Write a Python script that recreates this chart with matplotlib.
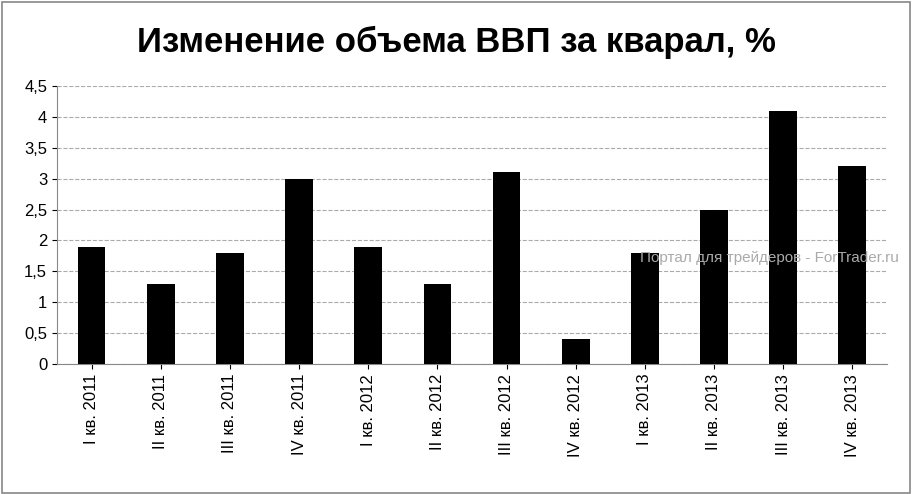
import matplotlib.pyplot as plt
from matplotlib.ticker import FuncFormatter, MultipleLocator
from matplotlib.patches import Rectangle

categories = ['I кв. 2011', 'II кв. 2011', 'III кв. 2011', 'IV кв. 2011',
              'I кв. 2012', 'II кв. 2012', 'III кв. 2012', 'IV кв. 2012',
              'I кв. 2013', 'II кв. 2013', 'III кв. 2013', 'IV кв. 2013']
values = [1.9, 1.3, 1.8, 3.0, 1.9, 1.3, 3.1, 0.4, 1.8, 2.5, 4.1, 3.2]

plt.rcParams['font.family'] = ['Liberation Sans', 'DejaVu Sans']

fig = plt.figure(figsize=(9.13, 4.94), dpi=100)
fig.patches.append(Rectangle((0.002, 0.003), 0.995, 0.993, transform=fig.transFigure,
                             fill=False, edgecolor='#888888', linewidth=1.2))
ax = fig.add_axes([0.0624, 0.263, 0.909, 0.563])

x = range(len(values))
ax.bar(x, values, width=0.4, color='black', zorder=3)
ax.set_xlim(-0.5, len(values) - 0.5)
ax.set_ylim(0, 4.5)
ax.yaxis.set_major_locator(MultipleLocator(0.5))
ax.yaxis.set_major_formatter(FuncFormatter(lambda v, p: f'{v:g}'.replace('.', ',')))
ax.set_xticks(list(x))
ax.set_xticklabels(categories, rotation=90, fontsize=12)
ax.tick_params(axis='y', labelsize=12)
ax.grid(axis='y', linestyle='--', color='#aaaaaa', linewidth=0.8, zorder=0)
for s in ['top', 'right']:
    ax.spines[s].set_visible(False)
ax.spines['left'].set_color('#888888')
ax.spines['bottom'].set_color('#888888')

fig.text(0.5, 0.915, 'Изменение объема ВВП за кварал, %', ha='center', va='center',
         fontsize=25, fontweight='bold')
fig.text(0.985, 0.478, 'Портал для трейдеров - ForTrader.ru', ha='right', va='center',
         fontsize=11, color='#aaaaaa')

fig.savefig('out.png', dpi=100)
